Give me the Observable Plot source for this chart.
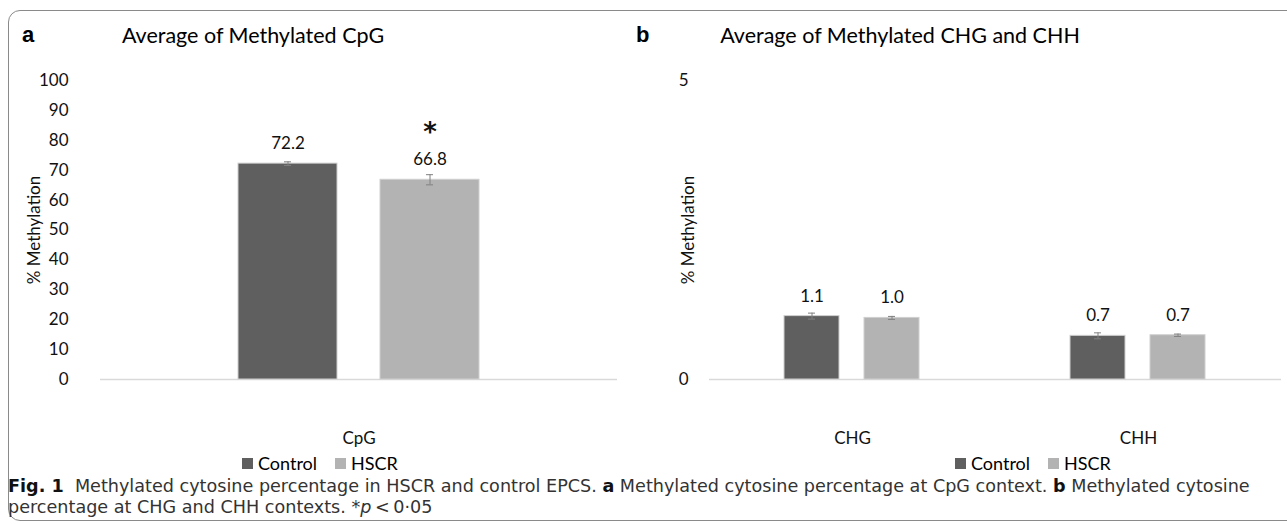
<!DOCTYPE html>
<html><head><meta charset="utf-8">
<script src="https://cdn.jsdelivr.net/npm/d3@7"></script>
<script src="https://cdn.jsdelivr.net/npm/@observablehq/plot@0.6"></script>
<style>
body{margin:0;background:#fff;width:1287px;height:524px;overflow:hidden;position:relative;font-family:Lato,sans-serif;color:#000;}
#box{position:absolute;left:8px;top:10px;width:1330px;height:511px;border:1.5px solid #8a8a8a;border-radius:12px;box-sizing:border-box;}
.abs{position:absolute;}
.title{font-size:21.5px;white-space:nowrap;transform:translate(-50%,-50%);}
.panel{font-weight:bold;font-size:22px;font-family:"Liberation Sans",Arial,sans-serif;transform:translateY(-50%);}
.legend{font-size:18px;display:flex;align-items:center;white-space:nowrap;transform:translateY(-50%);}
.legend .sw{width:11px;height:11px;display:inline-block;margin-right:5px;}
.legend .item{display:flex;align-items:center;margin-right:18px;}
.caption{font-family:"DejaVu Sans",sans-serif;font-size:17.6px;color:#333;line-height:21px;white-space:nowrap;}
.caption b{color:#111;}
</style></head>
<body>
<div id="box"></div>
<div class="abs panel" style="left:22px;top:35px">a</div>
<div class="abs panel" style="left:636px;top:35px">b</div>
<div class="abs title" style="left:253px;top:35px">Average of Methylated CpG</div>
<div class="abs title" style="left:900px;top:35px">Average of Methylated CHG and CHH</div>
<div id="chartA" class="abs" style="left:0;top:50px"></div>
<div id="chartB" class="abs" style="left:640px;top:50px"></div>
<div id="legendA" class="abs legend" style="left:242px;top:463px"></div>
<div id="legendB" class="abs legend" style="left:955px;top:463px"></div>
<div class="abs caption" style="left:8px;top:476px"><b>Fig. 1</b>&nbsp; Methylated cytosine percentage in HSCR and control EPCS. <b>a</b> Methylated cytosine percentage at CpG context. <b>b</b> Methylated cytosine<br>percentage at CHG and CHH contexts. *<i>p</i>&thinsp;&lt;&thinsp;0·05</div>
<script>
const groups = ["Control", "HSCR"];
const groupColors = ["#5f5f5f", "#b3b3b3"];
const cpgCategories = ["CpG"];
const cpgMeans = [72.2, 66.8];
const cpgErrors = [0.6, 1.7];
const cpgMarks = ["", "*"];
const nonCpgCategories = ["CHG", "CHH"];
const chgMeans = [1.06, 1.03];
const chgErrors = [0.05, 0.025];
const chhMeans = [0.73, 0.74];
const chhErrors = [0.05, 0.02];
const yTicksA = [0, 10, 20, 30, 40, 50, 60, 70, 80, 90, 100];
const yTicksB = [0, 5];

const rowsA = groups.map((g, i) => ({category: cpgCategories[0], group: g, mean: cpgMeans[i], err: cpgErrors[i], mark: cpgMarks[i]}));
const rowsB = [
  ...groups.map((g, i) => ({category: nonCpgCategories[0], group: g, mean: chgMeans[i], err: chgErrors[i]})),
  ...groups.map((g, i) => ({category: nonCpgCategories[1], group: g, mean: chhMeans[i], err: chhErrors[i]}))
];

const style = {fontFamily: "Lato, sans-serif", fontSize: "17px", color: "#111", background: "transparent", overflow: "visible"};

function barMarks(rows, capInset, withStars) {
  const m = [
    Plot.ruleY([0], {stroke: "#d9d9d9", strokeWidth: 1.5}),
    Plot.barY(rows, {fx: "category", x: "group", y: "mean", fill: "group", stroke: "#cfcfcf", strokeWidth: 1}),
    Plot.ruleX(rows, {fx: "category", x: "group", y1: d => d.mean - d.err, y2: d => d.mean + d.err, stroke: "#808080", strokeWidth: 1}),
    Plot.tickY(rows, {fx: "category", x: "group", y: d => d.mean + d.err, insetLeft: capInset, insetRight: capInset, stroke: "#808080", strokeWidth: 1}),
    Plot.tickY(rows, {fx: "category", x: "group", y: d => d.mean - d.err, insetLeft: capInset, insetRight: capInset, stroke: "#808080", strokeWidth: 1}),
    Plot.text(rows, {fx: "category", x: "group", y: "mean", text: d => d.mean.toFixed(1), dy: -20, fontSize: 17, fill: "#111"})
  ];
  if (withStars) m.push(Plot.text(rows, {fx: "category", x: "group", y: "mean", text: "mark", dy: -47, fontSize: 26, fontWeight: "bold", fontFamily: "DejaVu Sans", fill: "#111"}));
  return m;
}

const chartA = Plot.plot({
  width: 640, height: 400, marginTop: 30, marginBottom: 71, marginLeft: 100, marginRight: 23,
  style,
  fx: {domain: cpgCategories, padding: 0, label: null, tickSize: 0, tickPadding: 52, axis: "bottom"},
  x: {domain: groups, paddingInner: 0.3, paddingOuter: 0.958, axis: null},
  y: {domain: [0, 100], ticks: yTicksA, tickFormat: d3.format("d"), tickSize: 0, tickPadding: 32, label: "% Methylation", labelAnchor: "center", labelOffset: 73, labelArrow: "none"},
  color: {domain: groups, range: groupColors},
  marks: barMarks(rowsA, 46, true)
});
document.getElementById("chartA").append(chartA);

const chartB = Plot.plot({
  width: 647, height: 400, marginTop: 30, marginBottom: 71, marginLeft: 69, marginRight: 6,
  style,
  fx: {domain: nonCpgCategories, padding: 0, label: null, tickSize: 0, tickPadding: 52, axis: "bottom"},
  x: {domain: groups, paddingInner: 0.309, paddingOuter: 0.92, axis: null},
  y: {domain: [0, 5], ticks: yTicksB, tickFormat: d3.format("d"), tickSize: 0, tickPadding: 21, label: "% Methylation", labelAnchor: "center", labelOffset: 28, labelArrow: "none"},
  color: {domain: groups, range: groupColors},
  marks: barMarks(rowsB, 24, false)
});
document.getElementById("chartB").append(chartB);

for (const id of ["legendA", "legendB"]) {
  const el = document.getElementById(id);
  groups.forEach((g, i) => {
    const item = document.createElement("span");
    item.className = "item";
    item.innerHTML = `<span class="sw" style="background:${groupColors[i]}"></span>${g}`;
    el.append(item);
  });
}
</script>
</body></html>
